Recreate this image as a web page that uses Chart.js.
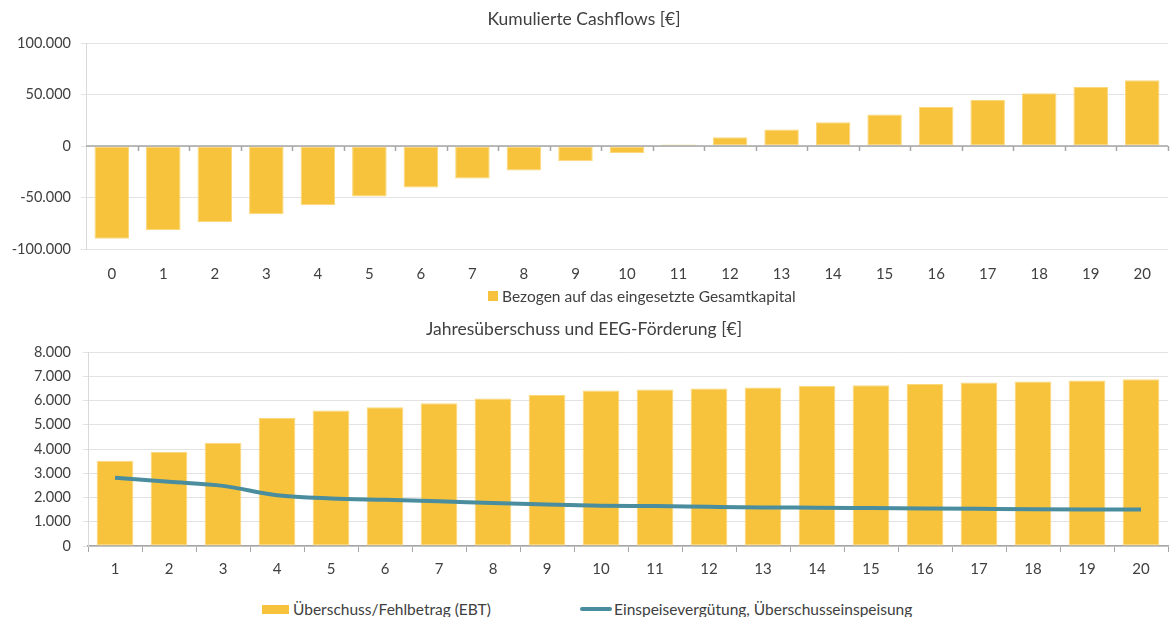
<!DOCTYPE html>
<html lang="de">
<head>
<meta charset="utf-8">
<title>Kumulierte Cashflows / Jahresüberschuss</title>
<script src="https://cdn.jsdelivr.net/npm/chart.js@4.4.1/dist/chart.umd.min.js"></script>
<style>
  html, body { margin: 0; padding: 0; background: #fff; }
  body { width: 1171px; height: 617px; position: relative; overflow: hidden;
         font-family: Lato, "Open Sans", sans-serif; color: #404040; }
  .box { position: absolute; left: 0; width: 1171px; }
  #topBox { top: 0; height: 306px; }
  #bottomBox { top: 305px; height: 290px; }
  .legend { position: absolute; font-size: 15.5px; display: flex; align-items: center; white-space: nowrap; }
  .sw-bar { display: inline-block; background: #f7c33c; margin-right: 4px; }
  .sw-line { display: inline-block; width: 32px; height: 4px; border-radius: 2px; background: #4a8d9e; margin-right: 2px; }
</style>
</head>
<body>
<div class="box" id="topBox"><canvas id="cashChart"></canvas></div>
<div class="legend" style="left:488px; top:287px;"><span class="sw-bar" style="width:10px;height:10px;"></span>Bezogen auf das eingesetzte Gesamtkapital</div>

<div class="box" id="bottomBox"><canvas id="ebtChart"></canvas></div>
<div class="legend" style="left:262px; top:600px;"><span class="sw-bar" style="width:27px;height:9px;"></span>Überschuss/Fehlbetrag (EBT)</div>
<div class="legend" style="left:580px; top:600px;"><span class="sw-line"></span>Einspeisevergütung, Überschusseinspeisung</div>

<script>
// Daten
const yearsCash = ['0','1','2','3','4','5','6','7','8','9','10','11','12','13','14','15','16','17','18','19','20'];
const cumulativeCash = [-90000, -81600, -74100, -66300, -57500, -49100, -40300, -31500, -23700, -14900,
                        -6800, 1400, 8500, 16000, 23100, 30600, 37800, 44600, 51100, 57300, 63800];

const yearsEbt = ['1','2','3','4','5','6','7','8','9','10','11','12','13','14','15','16','17','18','19','20'];
const ebtValues = [3520, 3890, 4260, 5275, 5590, 5725, 5890, 6080, 6230, 6410,
                   6450, 6490, 6535, 6600, 6630, 6685, 6740, 6780, 6820, 6875];
const eegValues = [2810, 2645, 2480, 2095, 1960, 1905, 1850, 1770, 1710, 1660,
                   1645, 1615, 1590, 1580, 1565, 1550, 1535, 1520, 1510, 1505];

const BAR = '#f7c33c';
const BAR_EDGE = '#fbd87a';
const LINE = '#4a8d9e';
const TEXT = '#404040';
const GRID = '#e3e3e3';
const AXIS = '#a6a6a6';
const FONT = 'Lato, "Open Sans", sans-serif';

// Tausenderpunkt wie in der Vorlage
function fmt(v) {
    return String(v).replace(/\B(?=(\d{3})+(?!\d))/g, '.');
}

// Nulllinie mit Teilstrichen fuer das obere Diagramm
const zeroAxis = {
    id: 'zeroAxis',
    afterDatasetsDraw(chart) {
        const ctx = chart.ctx;
        const x = chart.scales.x, y = chart.scales.y;
        const y0 = y.getPixelForValue(0);
        const n = x.ticks.length;
        const w = (x.right - x.left) / n;
        ctx.save();
        ctx.strokeStyle = AXIS;
        ctx.lineWidth = 1.5;
        ctx.beginPath();
        ctx.moveTo(x.left, y0);
        ctx.lineTo(x.right, y0);
        for (let i = 1; i <= n; i++) {
            const px = Math.round(x.left + i * w) + 0.5;
            ctx.moveTo(px, y0);
            ctx.lineTo(px, y0 + 5);
        }
        ctx.stroke();
        ctx.restore();
    }
};

Chart.defaults.font.family = FONT;
Chart.defaults.color = TEXT;
Chart.defaults.animation = false;

new Chart(document.getElementById('cashChart'), {
    type: 'bar',
    data: {
        labels: yearsCash,
        datasets: [{
            label: 'Bezogen auf das eingesetzte Gesamtkapital',
            data: cumulativeCash,
            backgroundColor: BAR,
            borderColor: BAR_EDGE,
            borderWidth: 1,
            borderSkipped: false,
            barPercentage: 0.67,
            categoryPercentage: 1
        }]
    },
    options: {
        responsive: true,
        maintainAspectRatio: false,
        layout: { padding: { right: 3, bottom: 15 } },
        plugins: {
            legend: { display: false },
            tooltip: { enabled: false },
            title: {
                display: true,
                text: 'Kumulierte Cashflows [€]',
                color: TEXT,
                font: { size: 17.5, weight: 'normal' },
                padding: { top: 9, bottom: 13 }
            }
        },
        scales: {
            x: {
                grid: { display: false },
                border: { display: false },
                ticks: { padding: 8, font: { size: 15 } }
            },
            y: {
                min: -100000,
                max: 100000,
                afterFit: s => { s.width = 86; },
                ticks: { stepSize: 50000, padding: 10, font: { size: 14.5 }, callback: v => fmt(v) },
                grid: { color: GRID, tickLength: 5 },
                border: { color: '#d9d9d9' }
            }
        }
    },
    plugins: [zeroAxis]
});

new Chart(document.getElementById('ebtChart'), {
    type: 'bar',
    data: {
        labels: yearsEbt,
        datasets: [{
            type: 'line',
            label: 'Einspeisevergütung, Überschusseinspeisung',
            data: eegValues,
            borderColor: LINE,
            borderWidth: 4,
            pointRadius: 0,
            tension: 0.4,
            cubicInterpolationMode: 'monotone',
            order: 0
        }, {
            label: 'Überschuss/Fehlbetrag (EBT)',
            data: ebtValues,
            backgroundColor: BAR,
            borderColor: BAR_EDGE,
            borderWidth: 1,
            borderSkipped: false,
            barPercentage: 0.68,
            categoryPercentage: 1,
            order: 1
        }]
    },
    options: {
        responsive: true,
        maintainAspectRatio: false,
        layout: { padding: { right: 3, bottom: 9 } },
        plugins: {
            legend: { display: false },
            tooltip: { enabled: false },
            title: {
                display: true,
                text: 'Jahresüberschuss und EEG-Förderung [€]',
                color: TEXT,
                font: { size: 17.5, weight: 'normal' },
                padding: { top: 14, bottom: 12 }
            }
        },
        scales: {
            x: {
                grid: { offset: true, drawOnChartArea: false, tickLength: 6, color: AXIS },
                border: { color: AXIS, width: 1.5 },
                ticks: { padding: 8, font: { size: 15 } }
            },
            y: {
                min: 0,
                max: 8000,
                afterFit: s => { s.width = 88; },
                ticks: { stepSize: 1000, padding: 12, font: { size: 14.5 }, callback: v => fmt(v) },
                grid: { color: GRID, tickLength: 5 },
                border: { color: '#d9d9d9' }
            }
        }
    }
});
</script>
</body>
</html>
